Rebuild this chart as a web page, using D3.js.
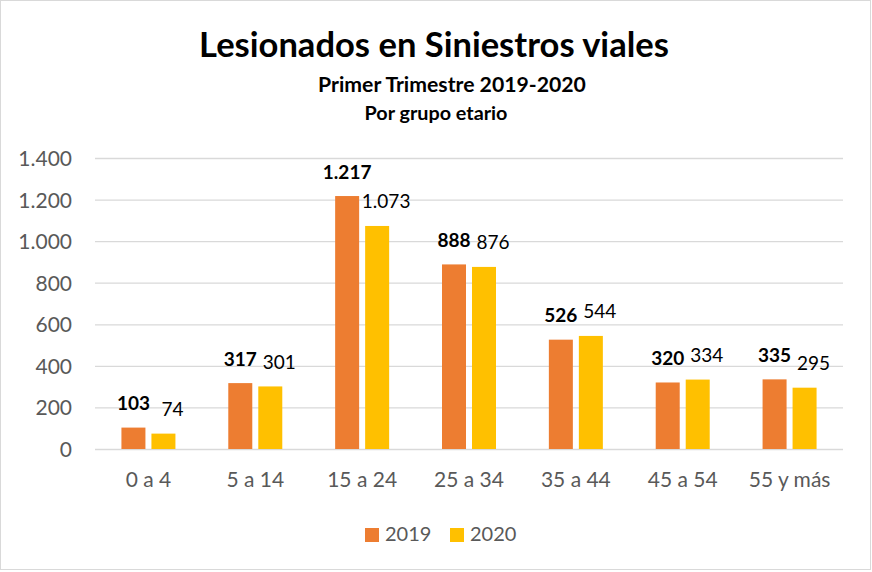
<!DOCTYPE html>
<html>
<head>
<meta charset="utf-8">
<script src="https://cdn.jsdelivr.net/npm/d3@7"></script>
<style>
  body { margin: 0; background: #fff; }
  svg { display: block; font-family: Lato, "Open Sans", sans-serif; }
</style>
</head>
<body>
<div id="chart"></div>
<script>
// data
const groups = ["0 a 4", "5 a 14", "15 a 24", "25 a 34", "35 a 44", "45 a 54", "55 y más"];
const years = ["2019", "2020"];
const values2019 = [103, 317, 1217, 888, 526, 320, 335];
const values2020 = [74, 301, 1073, 876, 544, 334, 295];
const yTicks = [0, 200, 400, 600, 800, 1000, 1200, 1400];
const colors = ["#ED7D31", "#FFC000"];

const W = 872, H = 572;
const plot = { left: 95, right: 843, top: 158, bottom: 449 };

const esFormat = d3.formatLocale({ decimal: ",", thousands: ".", grouping: [3], currency: ["$", ""] }).format(",");

const svg = d3.select("#chart").append("svg")
    .attr("width", W)
    .attr("height", H);

svg.append("rect")
    .attr("x", 0.5).attr("y", 0.5)
    .attr("width", W - 2).attr("height", H - 3)
    .attr("fill", "#fff")
    .attr("stroke", "#D9D9D9");

// titles, fitted to the widths in the reference
function fitText(sel, targetWidth) {
    const size = parseFloat(sel.style("font-size"));
    const w = sel.node().getComputedTextLength();
    sel.style("font-size", (size * targetWidth / w) + "px");
}

const t1 = svg.append("text")
    .attr("x", 434).attr("y", 57)
    .attr("text-anchor", "middle")
    .style("font-size", "32px").style("font-weight", "bold").attr("fill", "#000")
    .text("Lesionados en Siniestros viales");
fitText(t1, 470);

const t2 = svg.append("text")
    .attr("x", 452).attr("y", 92)
    .attr("text-anchor", "middle")
    .style("font-size", "21px").style("font-weight", "bold").attr("fill", "#000")
    .text("Primer Trimestre 2019-2020");
fitText(t2, 268);

const t3 = svg.append("text")
    .attr("x", 436).attr("y", 120)
    .attr("text-anchor", "middle")
    .style("font-size", "16px").style("font-weight", "bold").attr("fill", "#000")
    .text("Por grupo etario");
fitText(t3, 143);

// scales
const x0 = d3.scaleBand()
    .domain(groups)
    .range([plot.left, plot.right]);

const x1 = d3.scaleBand()
    .domain(years)
    .range([x0.bandwidth() / 2 - 27, x0.bandwidth() / 2 + 27])
    .paddingInner(0.2);

const y = d3.scaleLinear()
    .domain([0, 1400])
    .range([plot.bottom, plot.top]);

// grid + y labels
const yAxis = svg.append("g")
    .attr("transform", `translate(${plot.left},0)`)
    .call(d3.axisLeft(y)
        .tickValues(yTicks)
        .tickSize(-(plot.right - plot.left))
        .tickPadding(23)
        .tickFormat(esFormat));
yAxis.select(".domain").remove();
yAxis.selectAll(".tick line").attr("stroke", "#D9D9D9").attr("stroke-width", 1.3);
yAxis.selectAll(".tick text")
    .attr("fill", "#595959")
    .attr("dy", "0.36em")
    .style("font-size", "21px")
    .style("font-family", "Lato, sans-serif");

// bars
const rows = groups.map((g, i) => ({ group: g, vals: [values2019[i], values2020[i]] }));

const grp = svg.selectAll(".grp")
    .data(rows)
    .enter()
    .append("g")
    .attr("class", "grp")
    .attr("transform", d => `translate(${x0(d.group)},0)`);

grp.selectAll("rect")
    .data(d => d.vals.map((v, k) => ({ year: years[k], value: v, k })))
    .enter()
    .append("rect")
    .attr("x", d => x1(d.year))
    .attr("width", x1.bandwidth())
    .attr("y", d => y(d.value))
    .attr("height", d => y(0) - y(d.value))
    .attr("fill", d => colors[d.k]);

// data labels
grp.selectAll(".lbl")
    .data(d => d.vals.map((v, k) => ({ year: years[k], value: v, k })))
    .enter()
    .append("text")
    .attr("class", "lbl")
    .attr("x", d => x1(d.year) + x1.bandwidth() / 2 + (d.k === 1 ? 9 : 0))
    .attr("y", d => y(d.value) - 17.5)
    .attr("text-anchor", "middle")
    .attr("fill", "#000")
    .style("font-size", "19px")
    .style("font-weight", d => d.k === 0 ? "bold" : "normal")
    .text(d => esFormat(d.value));

// x labels
svg.append("g")
    .selectAll("text")
    .data(groups)
    .enter()
    .append("text")
    .attr("x", d => x0(d) + x0.bandwidth() / 2)
    .attr("y", 487)
    .attr("text-anchor", "middle")
    .attr("fill", "#595959")
    .style("font-size", "21px")
    .text(d => d);

// legend
const legend = svg.selectAll(".legend")
    .data(years)
    .enter()
    .append("g")
    .attr("class", "legend")
    .attr("transform", (d, i) => `translate(${365 + i * 85},528)`);

legend.append("rect")
    .attr("width", 14)
    .attr("height", 14)
    .attr("fill", (d, i) => colors[i]);

legend.append("text")
    .attr("x", 20)
    .attr("y", 13)
    .attr("fill", "#595959")
    .style("font-size", "20px")
    .text(d => d);
</script>
</body>
</html>
